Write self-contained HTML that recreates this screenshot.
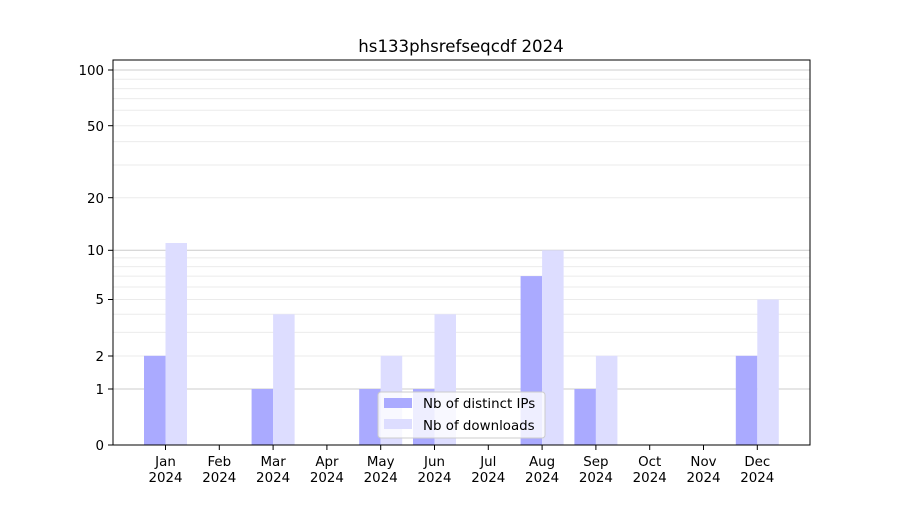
<!DOCTYPE html>
<html><head><style>body{margin:0;background:#fff}svg text{font-family:"DejaVu Sans","Liberation Sans",sans-serif}</style></head><body>
<svg width="900" height="500" xmlns="http://www.w3.org/2000/svg">
<rect width="900" height="500" fill="#fff"/>
<g stroke="#ebebeb" stroke-width="1">
<line x1="113" x2="810" y1="356.0" y2="356.0"/><line x1="113" x2="810" y1="332.4" y2="332.4"/><line x1="113" x2="810" y1="314.3" y2="314.3"/><line x1="113" x2="810" y1="299.5" y2="299.5"/><line x1="113" x2="810" y1="287.0" y2="287.0"/><line x1="113" x2="810" y1="276.1" y2="276.1"/><line x1="113" x2="810" y1="266.6" y2="266.6"/><line x1="113" x2="810" y1="257.9" y2="257.9"/>
<line x1="113" x2="810" y1="197.7" y2="197.7"/><line x1="113" x2="810" y1="165.0" y2="165.0"/><line x1="113" x2="810" y1="141.6" y2="141.6"/><line x1="113" x2="810" y1="125.7" y2="125.7"/><line x1="113" x2="810" y1="110.2" y2="110.2"/><line x1="113" x2="810" y1="98.6" y2="98.6"/><line x1="113" x2="810" y1="88.6" y2="88.6"/><line x1="113" x2="810" y1="79.3" y2="79.3"/>
</g>
<g stroke="#cccccc"><line x1="113" x2="810" y1="389" y2="389"/><line x1="113" x2="810" y1="250.3" y2="250.3"/><line x1="113" x2="810" y1="70" y2="70"/></g>
<g fill="#aaaaff">
<rect x="144" y="355.8" width="21.5" height="89.2"/><rect x="251.6" y="389" width="21.5" height="56"/><rect x="359.2" y="389" width="21.5" height="56"/><rect x="413" y="389" width="21.5" height="56"/><rect x="520.6" y="276.1" width="21.5" height="168.9"/><rect x="574.4" y="389" width="21.5" height="56"/><rect x="735.8" y="355.8" width="21.5" height="89.2"/>
</g>
<g fill="#ddddff">
<rect x="165.5" y="243" width="21.5" height="202"/><rect x="273.1" y="314.3" width="21.5" height="130.7"/><rect x="380.7" y="355.8" width="21.5" height="89.2"/><rect x="434.5" y="314.3" width="21.5" height="130.7"/><rect x="542.1" y="250.3" width="21.5" height="194.7"/><rect x="595.9" y="355.8" width="21.5" height="89.2"/><rect x="757.3" y="299.5" width="21.5" height="145.5"/>
</g>
<rect x="113" y="60" width="697" height="385" fill="none" stroke="#000"/>
<g stroke="#000"><line x1="108" x2="113" y1="445" y2="445"/><line x1="108" x2="113" y1="389" y2="389"/><line x1="108" x2="113" y1="356" y2="356"/><line x1="108" x2="113" y1="299.5" y2="299.5"/><line x1="108" x2="113" y1="250.3" y2="250.3"/><line x1="108" x2="113" y1="197.7" y2="197.7"/><line x1="108" x2="113" y1="125.7" y2="125.7"/><line x1="108" x2="113" y1="70" y2="70"/></g>
<g font-size="13.4" text-anchor="end"><text x="104" y="450">0</text><text x="104" y="394">1</text><text x="104" y="361">2</text><text x="104" y="304">5</text><text x="104" y="255">10</text><text x="104" y="203">20</text><text x="104" y="131">50</text><text x="104" y="75">100</text></g>
<g font-size="13.4" text-anchor="middle">
<g stroke="#000"><line x1="165.5" x2="165.5" y1="445" y2="450"/><line x1="219.3" x2="219.3" y1="445" y2="450"/><line x1="273.1" x2="273.1" y1="445" y2="450"/><line x1="326.9" x2="326.9" y1="445" y2="450"/><line x1="380.7" x2="380.7" y1="445" y2="450"/><line x1="434.5" x2="434.5" y1="445" y2="450"/><line x1="488.3" x2="488.3" y1="445" y2="450"/><line x1="542.1" x2="542.1" y1="445" y2="450"/><line x1="595.9" x2="595.9" y1="445" y2="450"/><line x1="649.7" x2="649.7" y1="445" y2="450"/><line x1="703.5" x2="703.5" y1="445" y2="450"/><line x1="757.3" x2="757.3" y1="445" y2="450"/></g>
<text x="165.5" y="466">Jan</text><text x="165.5" y="482">2024</text>
<text x="219.3" y="466">Feb</text><text x="219.3" y="482">2024</text>
<text x="273.1" y="466">Mar</text><text x="273.1" y="482">2024</text>
<text x="326.9" y="466">Apr</text><text x="326.9" y="482">2024</text>
<text x="380.7" y="466">May</text><text x="380.7" y="482">2024</text>
<text x="434.5" y="466">Jun</text><text x="434.5" y="482">2024</text>
<text x="488.3" y="466">Jul</text><text x="488.3" y="482">2024</text>
<text x="542.1" y="466">Aug</text><text x="542.1" y="482">2024</text>
<text x="595.9" y="466">Sep</text><text x="595.9" y="482">2024</text>
<text x="649.7" y="466">Oct</text><text x="649.7" y="482">2024</text>
<text x="703.5" y="466">Nov</text><text x="703.5" y="482">2024</text>
<text x="757.3" y="466">Dec</text><text x="757.3" y="482">2024</text>
</g>
<text x="461" y="52" font-size="16.6" text-anchor="middle">hs133phsrefseqcdf 2024</text>
<rect x="378" y="392" width="167" height="46" rx="3" fill="#fff" fill-opacity="0.8" stroke="#cccccc"/>
<rect x="384" y="398" width="28" height="10" fill="#aaaaff"/><text x="423" y="408" font-size="13.4">Nb of distinct IPs</text>
<rect x="384" y="419" width="28" height="10" fill="#ddddff"/><text x="423" y="430" font-size="13.4">Nb of downloads</text>
</svg>
</body></html>
